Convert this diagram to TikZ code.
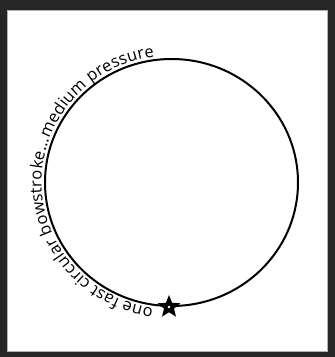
\documentclass[tikz,border=0pt]{standalone}
\usepackage{fontspec}
\setsansfont{Open Sans}
\usetikzlibrary{shapes.geometric,decorations.text}
\definecolor{framegray}{HTML}{262626}

\begin{document}
\begin{tikzpicture}[x=1pt,y=1pt, ring/.style={line width=2pt}, starmark/.style={star,star points=5,star point ratio=2.3,fill=black,inner sep=0pt,minimum size=24pt}, stroketext/.style={decorate,decoration={text along path,raise=3.5pt,text align=left,text={|\sffamily\fontsize{16.5}{19}\selectfont|one fast circular bowstroke...medium pressure}}}]
\fill[framegray] (0,0) rectangle (335,357);
\filldraw[fill=white,draw=gray!60,line width=0.6pt] (7,6) rectangle (327,347);
\coordinate (o) at (171.5,174.5);
\draw[ring] (o) ellipse[x radius=126.5,y radius=123.5];
\path[stroketext,shift={(o)}] (262:126.5 and 123.5) arc[start angle=262,end angle=70,x radius=126.5,y radius=123.5];
\node[starmark] (start) at (169,50) {};
\fill[white] (start.center) circle (1.4pt);
\end{tikzpicture}
\end{document}
